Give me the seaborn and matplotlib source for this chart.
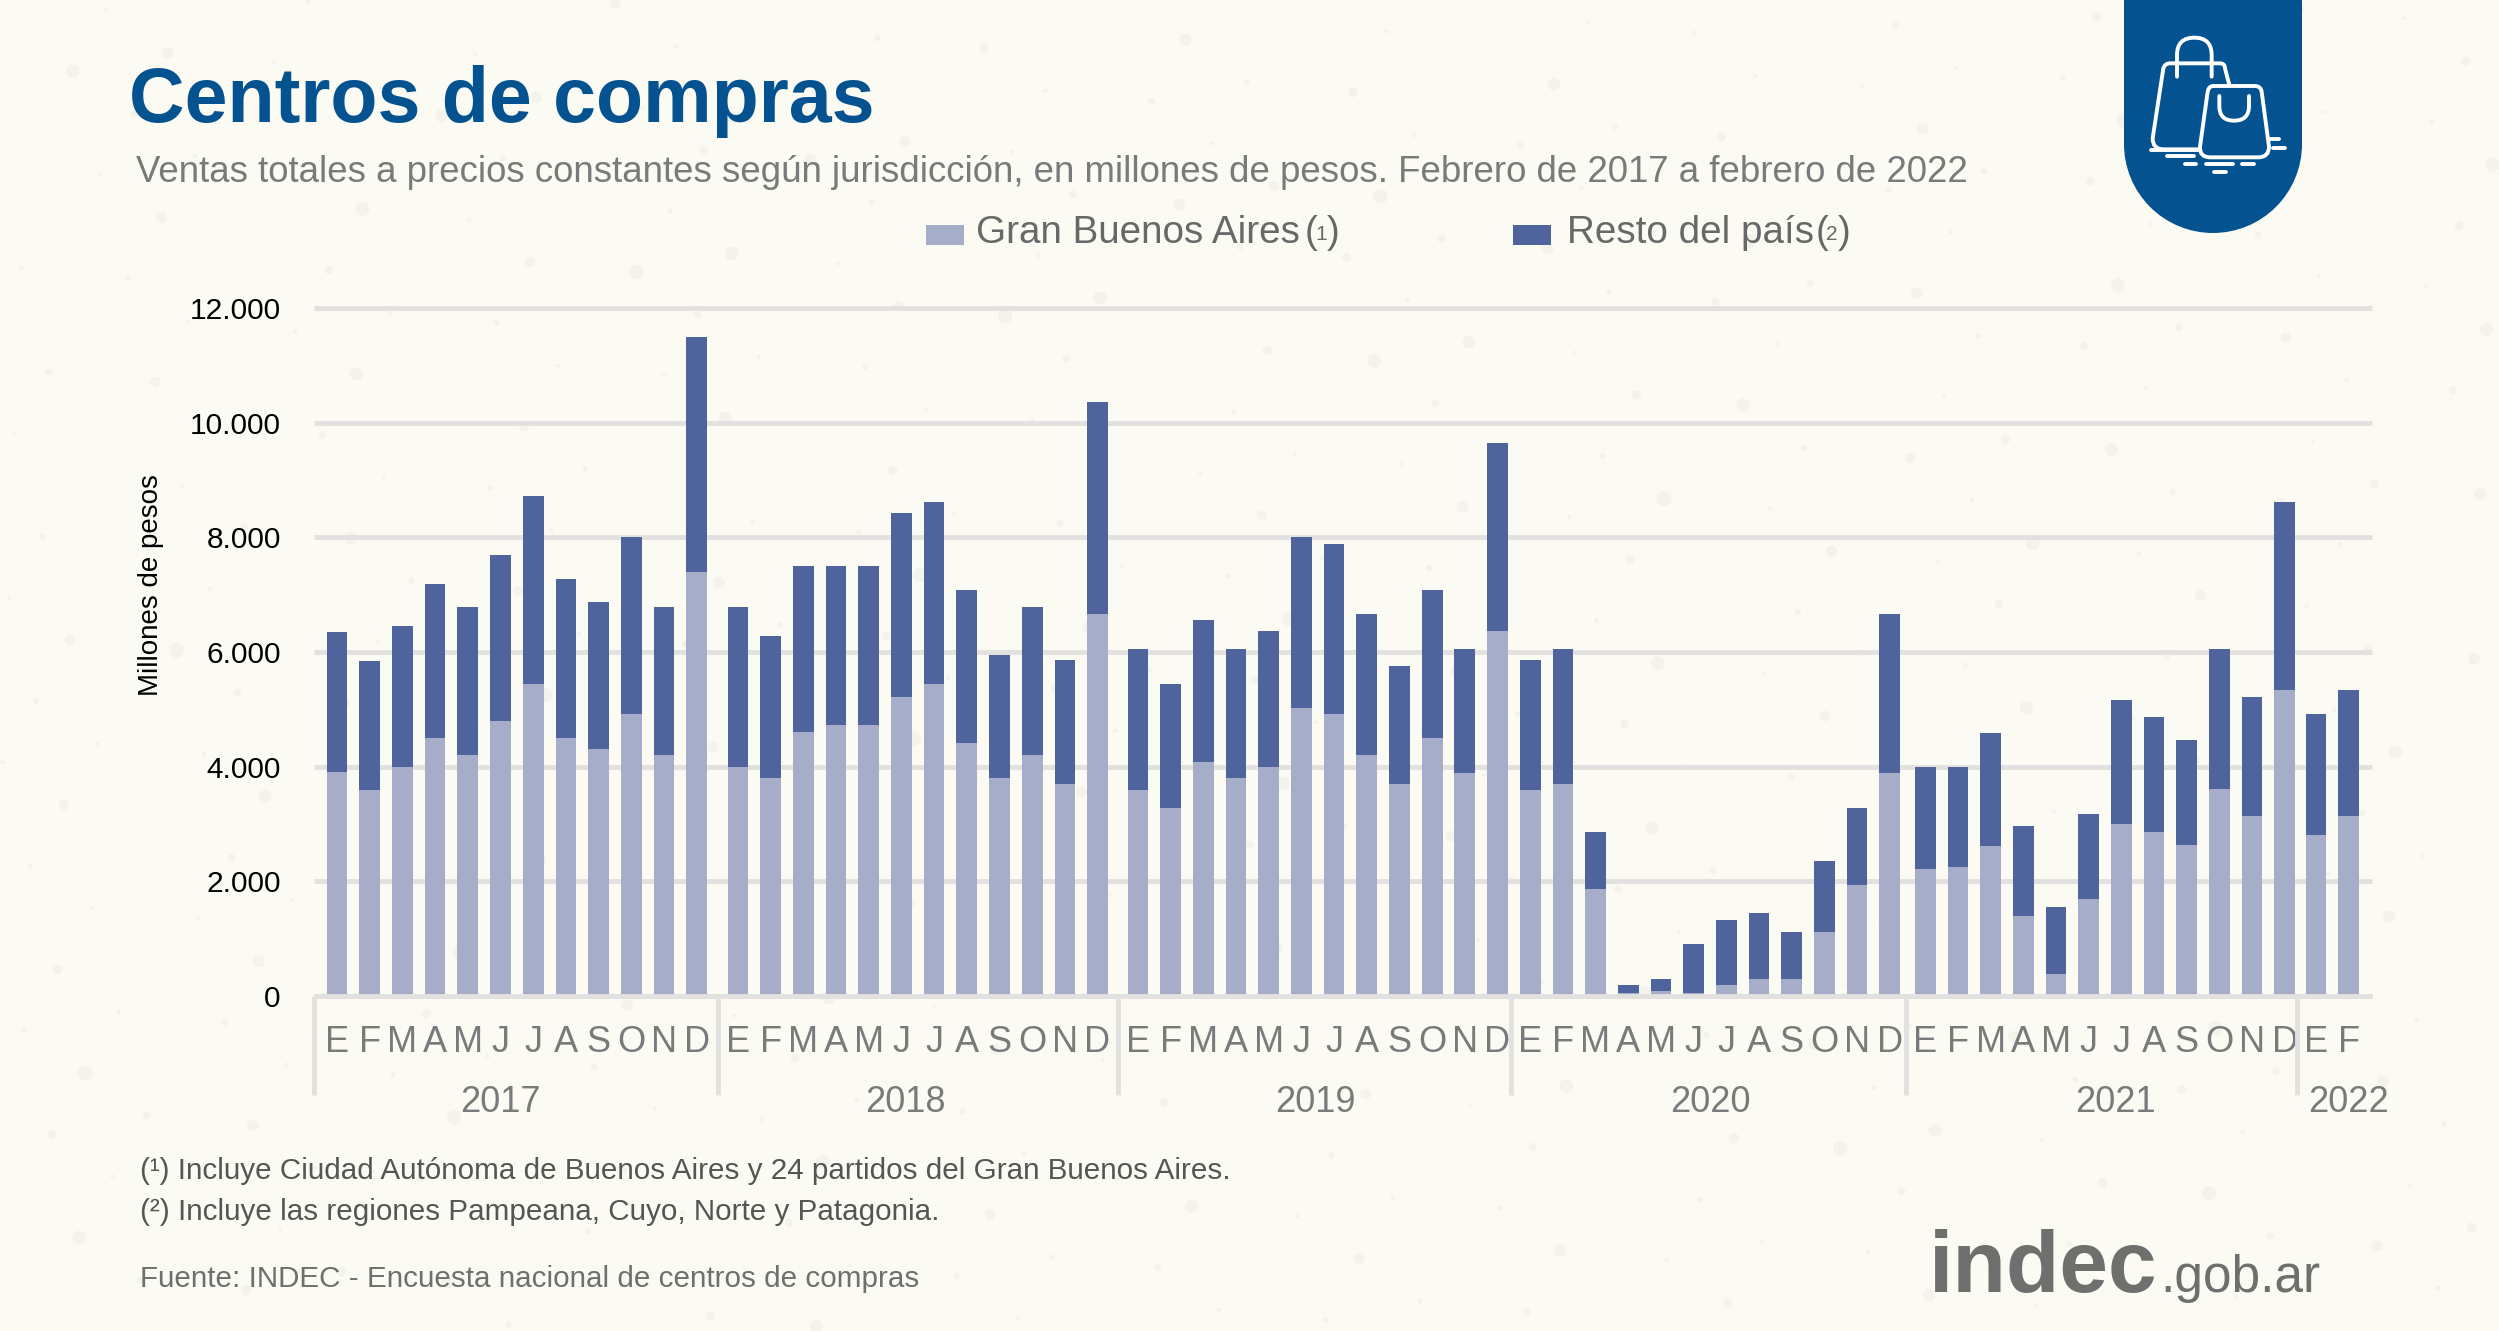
import numpy as np
import pandas as pd
import matplotlib.pyplot as plt
import seaborn as sns
from matplotlib.patches import PathPatch, Rectangle
from matplotlib.path import Path

# valores (millones de pesos)
meses = list("EFMAMJJASOND")
anios = ["2017", "2018", "2019", "2020", "2021", "2022"]
gba = [3900, 3600, 4000, 4500, 4200, 4800, 5450, 4500, 4300, 4920, 4200, 7390,
       4000, 3800, 4600, 4720, 4720, 5220, 5450, 4420, 3800, 4200, 3690, 6670,
       3590, 3280, 4080, 3800, 4000, 5030, 4920, 4200, 3700, 4500, 3890, 6360,
       3590, 3700, 1860, 50, 80, 50, 190, 300, 300, 1110, 1940, 3890,
       2220, 2250, 2610, 1390, 390, 1690, 3000, 2860, 2640, 3610, 3140, 5330,
       2810, 3140]
total = [6350, 5850, 6450, 7180, 6780, 7700, 8720, 7280, 6870, 8000, 6780, 11500,
         6780, 6280, 7500, 7500, 7500, 8420, 8610, 7080, 5950, 6780, 5860, 10360,
         6060, 5450, 6560, 6060, 6360, 8000, 7890, 6670, 5750, 7080, 6060, 9640,
         5860, 6060, 2860, 190, 300, 910, 1330, 1440, 1110, 2360, 3280, 6670,
         4000, 4000, 4580, 2970, 1560, 3170, 5170, 4860, 4470, 6060, 5220, 8610,
         4920, 5330]

AZUL = "#4F639C"
LILA = "#A6ADC8"
FONDO = "#FBFAF3"
GRILLA = "#E2E1E0"
GRIS = "#7A7A7A"
W, H = 2499, 1331

sns.set_theme(style="white")
plt.rcParams["font.family"] = ["Liberation Sans", "DejaVu Sans"]

# los anios estan levemente separados entre si
corrimiento = np.repeat([0, 0.27, 0.51, 0.51, 0.60, 0.56], [12, 12, 12, 12, 12, 2])
x_pos = np.arange(len(gba)) + corrimiento
etiquetas = (meses * 6)[:len(gba)]
df = pd.DataFrame({"x": x_pos, "gba": gba, "total": total})

fig = plt.figure(figsize=(W / 100, H / 100), dpi=100, facecolor=FONDO)

# capa de fondo y adornos en coordenadas de pixel
bg = fig.add_axes([0, 0, 1, 1], zorder=0)
bg.set_xlim(0, W)
bg.set_ylim(H, 0)
bg.axis("off")
i = np.arange(1, 420)
bg.scatter((i * 0.7548776662) % 1 * W, (i * 0.5698402910) % 1 * H,
           s=8 + 110 * ((i * 0.381966) % 1) ** 3, color="#F4F3EB", linewidths=0)

ax = fig.add_axes([314 / W, 1 - 996 / H, (2372 - 314) / W, (996 - 308) / H], zorder=1)
ax.patch.set_alpha(0)
ax.set_axisbelow(True)

# barras apiladas: total atras y GBA adelante
sns.barplot(data=df, x="x", y="total", native_scale=True, color=AZUL, saturation=1,
            width=0.66, linewidth=0, ax=ax)
sns.barplot(data=df, x="x", y="gba", native_scale=True, color=LILA, saturation=1,
            width=0.66, linewidth=0, ax=ax)

x_min, x_max = -0.707, 62.27
ax.set_xlim(x_min, x_max)
ax.set_ylim(0, 12000)
ax.set_yticks(range(0, 12001, 2000))
ax.set_yticklabels([f"{v:,}".replace(",", ".") for v in range(0, 12001, 2000)],
                   fontsize=21.5, color="black")
ax.set_xticks(x_pos)
ax.set_xticklabels(etiquetas, fontsize=26, color=GRIS)
ax.tick_params(axis="y", length=0, pad=24)
ax.tick_params(axis="x", length=0, pad=21)
ax.set_xlabel("")
ax.set_ylabel("Millones de pesos", fontsize=20, color="black")
ax.yaxis.set_label_coords(-0.073, 0.597)
sns.despine(ax=ax, left=True, bottom=True, right=True, top=True)

ax.grid(axis="y", color=GRILLA, linewidth=3.5)
for linea in ax.get_ygridlines():
    linea.set_clip_on(False)
    linea.set_solid_capstyle("butt")
ax.axhline(0, color=GRILLA, linewidth=3.5, zorder=5, clip_on=False, solid_capstyle="butt")

# separadores y rotulos de anio
inicios = x_pos[np.arange(0, len(gba), 12)]
separadores = np.r_[x_min, inicios[1:] - 0.6]
ax.vlines(separadores, 0, -(1095 - 996) / 688, transform=ax.get_xaxis_transform(),
          color=GRILLA, linewidth=3.5, clip_on=False)
anio_x = [5.0, 17.39, 29.93, 42.02, 54.41, 61.54]
for px, anio in zip(anio_x, anios):
    ax.text(px, -(1103 - 996) / 688, anio, transform=ax.get_xaxis_transform(),
            fontsize=26, color=GRIS, ha="center", va="center")

# titulos
bg.text(129, 101, "Centros de compras", fontsize=55.5, fontweight="bold", color="#04528F",
        va="center")
bg.text(136, 172, "Ventas totales a precios constantes según jurisdicción, en millones de pesos. "
        "Febrero de 2017 a febrero de 2022", fontsize=26.33, color=GRIS, va="center")

# leyenda
GRIS_LEY = "#686868"
bg.add_patch(Rectangle((926, 225), 38, 20, color=LILA, lw=0))
bg.add_patch(Rectangle((1513, 225), 38, 20, color=AZUL, lw=0))
bg.text(976, 233, "Gran Buenos Aires", fontsize=27.8, color=GRIS_LEY, va="center")
bg.text(1567, 233, "Resto del país", fontsize=27.8, color=GRIS_LEY, va="center")
for x0, nota in ((1305, "1"), (1816, "2")):
    bg.text(x0, 233, "(", fontsize=27.8, color=GRIS_LEY, va="center")
    bg.text(x0 + 16, 234, nota, fontsize=15, color=GRIS_LEY, va="center", ha="center")
    bg.text(x0 + 22, 233, ")", fontsize=27.8, color=GRIS_LEY, va="center")

# notas al pie
bg.text(140, 1171, "(¹) Incluye Ciudad Autónoma de Buenos Aires y 24 partidos del Gran Buenos Aires.",
        fontsize=21.3, color="#555555", va="center")
bg.text(140, 1212, "(²) Incluye las regiones Pampeana, Cuyo, Norte y Patagonia.",
        fontsize=21.3, color="#555555", va="center")
bg.text(140, 1279, "Fuente: INDEC - Encuesta nacional de centros de compras",
        fontsize=21.3, color="#6F6F6E", va="center")

# logo
bg.text(1929, 1292, "indec", fontsize=63, fontweight="bold", color="#6F6F6E", va="baseline")
bg.text(2160, 1292, ".gob.ar", fontsize=37, color="#6F6F6E", va="baseline")

# solapa azul con las bolsas
r = 89
cx = 2213
solapa = Path.arc(0, 180)
verts = [(cx - r, 0), (cx + r, 0)] + [(cx + r * vx, 144 + r * vy) for vx, vy in solapa.vertices]
codes = [Path.MOVETO, Path.LINETO, Path.LINETO] + list(solapa.codes[1:])
verts = verts + [(cx - r, 0)]
codes = codes + [Path.CLOSEPOLY]
bg.add_patch(PathPatch(Path(verts, codes), facecolor="#04528F", edgecolor="none"))


def z(x, y):
    return (2050 + x / 3, y / 3)


def trazo(puntos, codigos=None):
    v = [z(*p) for p in puntos]
    c = codigos or [Path.MOVETO] + [Path.LINETO] * (len(v) - 1)
    bg.add_patch(PathPatch(Path(v, c), facecolor="none", edgecolor="white", lw=2.8,
                           capstyle="round", joinstyle="round"))


L, Q = Path.LINETO, Path.CURVE3
# bolsa grande
trazo([(538, 255), (525, 205), (525, 190), (510, 190), (360, 190), (345, 190), (340, 205),
       (308, 415), (308, 448), (340, 448), (448, 448)],
      [Path.MOVETO, L, Q, Q, L, Q, Q, L, Q, Q, L])
trazo([(381, 230), (381, 165), (381, 113), (433, 113), (485, 113), (485, 165), (485, 230)],
      [Path.MOVETO, L, Q, Q, Q, Q, L])
# bolsa chica
trazo([(490, 258), (615, 258), (632, 258), (635, 275), (657, 440), (657, 472), (625, 472),
       (480, 472), (448, 472), (450, 440), (473, 275), (476, 258), (490, 258)],
      [Path.MOVETO, L, Q, Q, L, Q, Q, L, Q, Q, L, Q, Q])
trazo([(508, 288), (508, 318), (508, 362), (552, 362), (597, 362), (597, 318), (597, 288)],
      [Path.MOVETO, L, Q, Q, Q, Q, L])
# rayitas del piso
for x0, x1, y0 in [(302, 445, 450), (352, 432, 468), (405, 438, 492), (468, 548, 492),
                   (577, 612, 492), (492, 527, 516), (658, 686, 417), (670, 706, 443)]:
    trazo([(x0, y0), (x1, y0)])

plt.savefig("out.png", dpi=100, facecolor=FONDO)
plt.close()
